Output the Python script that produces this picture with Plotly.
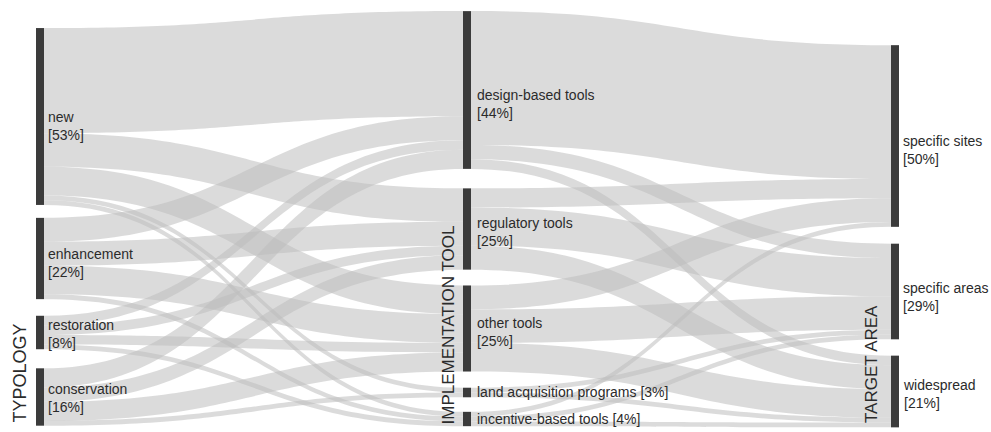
import plotly.graph_objects as go

# Nodes, in three columns
typology = ["new", "enhancement", "restoration", "conservation"]
typology_pct = [53, 22, 8, 16]
tools = ["design-based tools", "regulatory tools", "other tools",
         "land acquisition programs", "incentive-based tools"]
tools_pct = [44, 25, 25, 3, 4]
targets = ["specific sites", "specific areas", "widespread"]
targets_pct = [50, 29, 21]

# Flows (number of cases), rows = source, cols = destination
typology_to_tool = [
    [22, 7, 6, 1, 1],   # new
    [5, 5, 6, 0, 1],    # enhancement
    [2, 2, 2, 0, 1],    # restoration
    [4, 3, 4, 1, 0],    # conservation
]
tool_to_target = [
    [28, 3, 2],   # design-based tools
    [4, 8, 5],    # regulatory tools
    [5, 7, 6],    # other tools
    [0, 1, 1],    # land acquisition programs
    [1, 1, 1],    # incentive-based tools
]

# figure fills the whole 991x432 window (body margin removed below)
W, H = 991, 432


def px_x(x):
    return x / W


def px_y(y):
    # pixel row from the top -> fraction from top of figure
    return y / H


# node layout (pixel centres)
col_x = [40, 467, 895]
typology_y = [116.5, 258.5, 332.5, 397]
tools_y = [90, 229, 328.5, 392.5, 419]
targets_y = [136, 291.5, 391.5]

# label layout (pixel centres)
typology_label_y = [126, 263, 334, 398]
tools_label_y = [104, 232, 332, 392, 419]
targets_label_y = [150, 297, 394]
label_x = [46, 475, 901]

names = typology + tools + targets
n1, n2 = len(typology), len(tools)

node_x = [px_x(col_x[0])] * n1 + [px_x(col_x[1])] * n2 + [px_x(col_x[2])] * len(targets)
node_y = [px_y(y) for y in typology_y + tools_y + targets_y]

source, target, value = [], [], []
for i, row in enumerate(typology_to_tool):
    for j, v in enumerate(row):
        if v:
            source.append(i)
            target.append(n1 + j)
            value.append(v)
for i, row in enumerate(tool_to_target):
    for j, v in enumerate(row):
        if v:
            source.append(n1 + i)
            target.append(n1 + n2 + j)
            value.append(v)

fig = go.Figure(
    go.Sankey(
        arrangement="fixed",
        domain=dict(x=[0, 1], y=[0, 1]),
        node=dict(
            label=[""] * len(names),
            customdata=names,
            hovertemplate="%{customdata}<extra></extra>",
            x=node_x,
            y=node_y,
            pad=20.75,
            thickness=8,
            color="#3b3b3b",
            line=dict(width=0),
        ),
        link=dict(
            source=source,
            target=target,
            value=value,
            color="rgba(190,190,190,0.55)",
        ),
    )
)

font = dict(family="Liberation Sans, Arial, sans-serif", size=14, color="#2b2b2b")
annotations = []
groups = [
    (typology, typology_pct, typology_label_y, label_x[0]),
    (tools, tools_pct, tools_label_y, label_x[1]),
    (targets, targets_pct, targets_label_y, label_x[2]),
]
for labels, pcts, ys, lx in groups:
    for name, pct, y in zip(labels, pcts, ys):
        if name in ("land acquisition programs", "incentive-based tools"):
            text = f"{name} [{pct}%]"
        else:
            text = f"{name}<br>[{pct}%]"
        annotations.append(dict(
            x=px_x(lx), y=1 - px_y(y), xref="paper", yref="paper",
            text=text, showarrow=False, xanchor="left", yanchor="middle",
            align="left", font=font,
        ))

titles = [("TYPOLOGY", 19, 425, 18), ("IMPLEMENTATION TOOL", 448, 427, 17),
          ("TARGET AREA", 871, 425, 17)]
for text, x, y, size in titles:
    annotations.append(dict(
        x=px_x(x), y=1 - px_y(y), xref="paper", yref="paper",
        text=text, showarrow=False, textangle=-90,
        xanchor="center", yanchor="bottom",
        font=dict(family="Liberation Sans, Arial, sans-serif", size=size, color="#2b2b2b"),
    ))

fig.update_layout(
    width=W,
    height=H,
    margin=dict(l=0, r=0, t=0, b=0),
    paper_bgcolor="white",
    plot_bgcolor="white",
    annotations=annotations,
)

fig.write_html(
    "out.html",
    config={"displayModeBar": False},
    post_script="document.body.style.margin='0';document.body.style.overflow='hidden';",
)
